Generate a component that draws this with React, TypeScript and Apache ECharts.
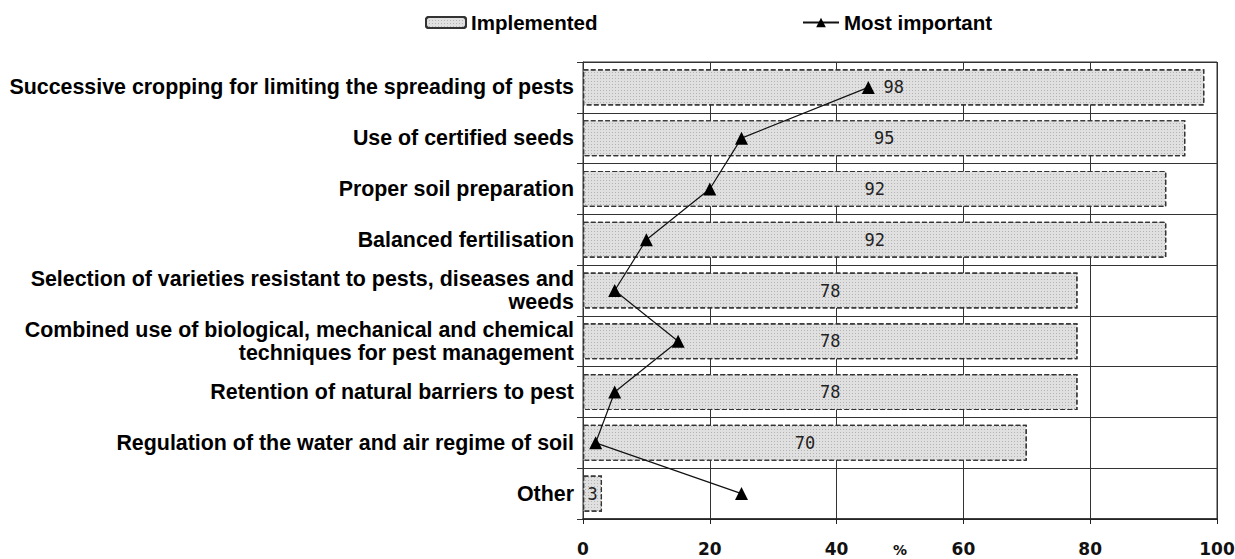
import React, { useEffect, useRef } from "react";
import * as echarts from "echarts";

const categories = [
  "Successive cropping for limiting the spreading of pests",
  "Use of certified seeds",
  "Proper soil preparation",
  "Balanced fertilisation",
  "Selection of varieties resistant to pests, diseases and\nweeds",
  "Combined use of biological, mechanical and chemical\ntechniques for pest management",
  "Retention of natural barriers to pest",
  "Regulation of the water and air regime of soil",
  "Other",
];
const implemented = [98, 95, 92, 92, 78, 78, 78, 70, 3];
const mostImportant = [45, 25, 20, 10, 5, 15, 5, 2, 25];
const xTicks = { min: 0, max: 100, interval: 20 };

export default function App() {
  const ref = useRef<HTMLDivElement>(null);
  useEffect(() => {
    if (!ref.current) return;
    const chart = echarts.init(ref.current, null, { renderer: "svg" });
    const labelFont = "'Liberation Sans', Arial, sans-serif";
    chart.setOption({
      animation: false,
      backgroundColor: "#ffffff",
      legend: [
        {
          data: ["Implemented"],
          left: 420,
          top: 7,
          itemWidth: 40,
          itemHeight: 11,
          textStyle: { fontFamily: labelFont, fontWeight: "bold", fontSize: 20.5, color: "#000" },
        },
        {
          data: ["Most important"],
          left: 797,
          top: 7,
          itemWidth: 36,
          itemHeight: 12,
          textStyle: { fontFamily: labelFont, fontWeight: "bold", fontSize: 20.5, color: "#000" },
        },
      ],
      grid: {
        left: 583,
        right: 18,
        top: 62,
        bottom: 40,
        containLabel: false,
        outerBoundsMode: "none",
        show: true,
        borderColor: "#333",
        borderWidth: 1,
      },
      xAxis: {
        type: "value",
        min: xTicks.min,
        max: xTicks.max,
        interval: xTicks.interval,
        name: "%",
        nameLocation: "middle",
        nameGap: 24,
        nameMoveOverlap: false,
        nameTextStyle: { fontFamily: "'DejaVu Sans', sans-serif", fontSize: 14, color: "#111", fontWeight: "bold" },
        axisLine: { show: true, lineStyle: { color: "#222", width: 1.5 } },
        axisTick: { show: true, length: 5, lineStyle: { color: "#222" } },
        axisLabel: {
          margin: 21,
          fontFamily: "'DejaVu Sans', sans-serif",
          fontWeight: "bold",
          fontSize: 17,
          color: "#111",
        },
        splitLine: { show: true, lineStyle: { color: "#333", width: 1 } },
      },
      yAxis: {
        type: "category",
        data: categories,
        inverse: true,
        axisLine: { show: true, lineStyle: { color: "#333", width: 1 } },
        axisTick: { show: true, length: 6, lineStyle: { color: "#333" } },
        axisLabel: {
          margin: 9,
          fontFamily: labelFont,
          fontWeight: "bold",
          fontSize: 21.4,
          lineHeight: 23,
          color: "#000",
          align: "right",
        },
        splitLine: { show: true, lineStyle: { color: "#333", width: 1 } },
      },
      series: [
        {
          name: "Implemented",
          type: "bar",
          data: implemented,
          barCategoryGap: "29%",
          itemStyle: {
            color: "#e0e0e0",
            borderColor: "#333",
            borderWidth: 1.2,
            borderType: "dashed",
            decal: {
              symbol: "rect",
              symbolSize: 1,
              dashArrayX: [1, 2],
              dashArrayY: [1, 2],
              color: "rgba(0,0,0,0.2)",
            },
          },
          label: {
            show: true,
            position: "inside",
            fontFamily: "'DejaVu Sans Mono', monospace",
            fontSize: 17,
            color: "#222",
          },
          z: 2,
        },
        {
          name: "Most important",
          type: "line",
          data: mostImportant,
          symbol: "triangle",
          symbolSize: 13,
          itemStyle: { color: "#000" },
          lineStyle: { color: "#111", width: 1.2 },
          z: 5,
        },
      ],
    });
    return () => chart.dispose();
  }, []);
  return <div ref={ref} style={{ width: 1235, height: 559, position: "absolute", left: 0, top: 0 }} />;
}
